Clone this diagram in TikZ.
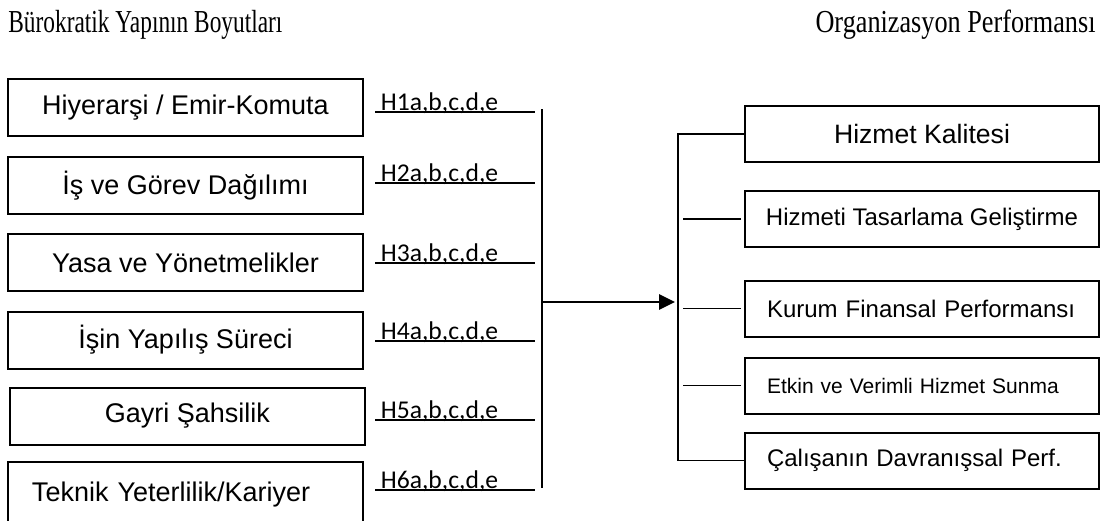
\documentclass[tikz,border=0pt]{standalone}
\usepackage{fontspec}
\setmainfont{Liberation Sans}
\newfontfamily\titlefont[FakeStretch=0.73]{Liberation Serif}
\newfontfamily\titlefontr[FakeStretch=0.82]{Liberation Serif}
\newfontfamily\hypfont{Carlito}
\usetikzlibrary{calc,arrows.meta}

\begin{document}
\begin{tikzpicture}[
x=0.5pt, y=-0.5pt,
leftbox/.style={
	draw, line width=1pt, rectangle,
	minimum width=177.5pt, minimum height=28.5pt,
	inner sep=0pt, text=black,
	font=\fontsize{13.5}{16}\selectfont
},
rightbox/.style={
	draw, line width=1pt, rectangle,
	minimum width=177pt, minimum height=28pt,
	inner sep=0pt, text=black,
	font=\fontsize{12}{14}\selectfont
},
lefttext/.style={align=left, text width=155pt, inner xsep=11pt},
hyp/.style={font=\hypfont\fontsize{12.8}{14}\selectfont, anchor=base west, inner sep=0pt},
title/.style={font=\fontsize{16}{18}\selectfont, inner sep=0pt},
wire/.style={line width=0.9pt}
]
\useasboundingbox (0,0) rectangle (1101,520);

% titles
\node[title, anchor=base west] (tl) at (8,32) {\titlefont Bürokratik Yapının Boyutları};
\node[title, anchor=base east] (tr) at (1096,32) {\titlefontr Organizasyon Performansı};

% dimensions
\node[leftbox] (b1) at (185.5,107.5) {Hiyerarşi / Emir-Komuta};
\node[leftbox] (b2) at (185.5,185.5) {İş ve Görev Dağılımı};
\node[leftbox] (b3) at (185.5,262.5) {Yasa ve Yönetmelikler};
\node[leftbox] (b4) at (185.5,340) {İşin Yapılış Süreci};
\node[leftbox] (b5) at (187.5,416) {Gayri Şahsilik};
\node[leftbox, align=left, text width=153.5pt, inner xsep=12pt,
	minimum height=33pt] (b6) at (185.5,495) {Teknik Yeterlilik/Kariyer};

% performance
\node[rightbox, font=\fontsize{13.3}{15}\selectfont] (r1) at (922,134) {Hizmet Kalitesi};
\node[rightbox] (r2) at (922,219) {Hizmeti Tasarlama Geliştirme};
\node[rightbox, lefttext] (r3) at (922,308.5) {Kurum Finansal Performansı};
\node[rightbox, lefttext, font=\fontsize{10.5}{12}\selectfont] (r4) at (922,385.5) {Etkin ve Verimli Hizmet Sunma};
\node[rightbox, lefttext] (r5) at (922,460.5) {Çalışanın Davranışsal Perf.};

\coordinate (lt) at (542,109);
\coordinate (lb) at (542,488);
\coordinate (rbus) at (678,0);

\foreach \i/\y in {1/112,2/183,3/263,4/341,5/420,6/490}
{
	\coordinate (h\i) at (375,\y);
	\coordinate (e\i) at (535,\y);
	\draw[wire] (h\i) -- (e\i)
		node[hyp, pos=0, xshift=2.5pt, yshift=1pt] {H\i a,b,c,d,e};
}
\draw[wire] (lt) -- (lb);

\coordinate (as) at (542,302);
\draw[line width=1.4pt, -{Triangle[length=8pt,width=7.5pt]}, shorten >=1.5pt]
	(as) -- (as -| rbus);

\draw[wire] (r1.west) -- (r1.west -| rbus) -- (r5.west -| rbus) -- (r5.west);
\foreach \i in {2,3,4}
	\draw[wire] ([xshift=-1.5pt]r\i.west) -- ([xshift=2.5pt]r\i.west -| rbus);
\end{tikzpicture}
\end{document}
